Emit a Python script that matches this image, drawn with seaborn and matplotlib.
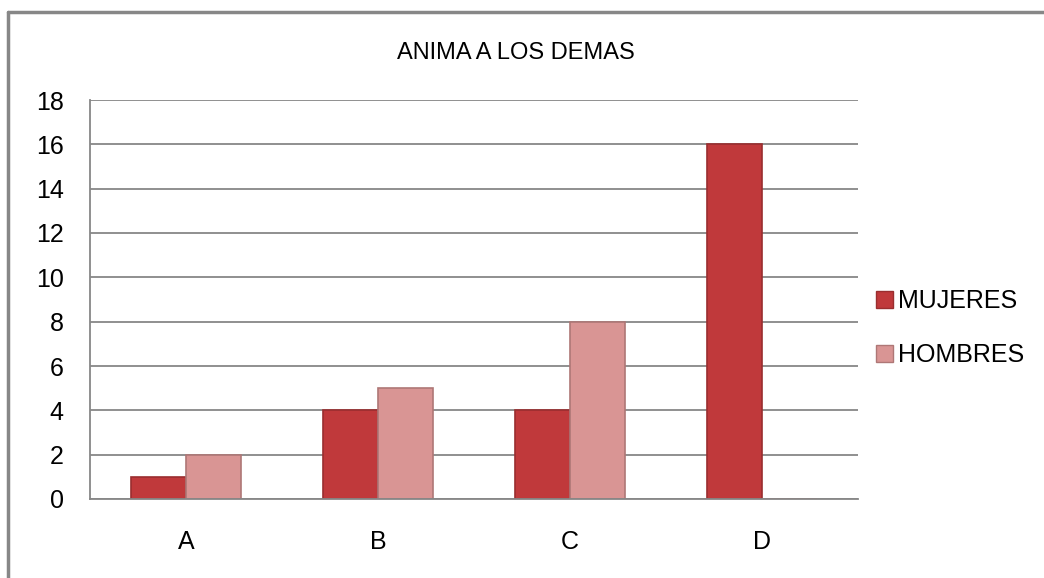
import matplotlib
matplotlib.use("Agg")
import matplotlib.pyplot as plt
import pandas as pd
import seaborn as sns

# Data
categorias = ["A", "B", "C", "D"]
mujeres = [1, 4, 4, 16]
hombres = [2, 5, 8, 0]
series = ["MUJERES", "HOMBRES"]
colores = ["#C0393B", "#D99594"]

df = pd.DataFrame({
    "cat": categorias * 2,
    "valor": mujeres + hombres,
    "serie": [series[0]] * 4 + [series[1]] * 4,
})

sns.set_style("white")
plt.rcParams["font.family"] = ["Liberation Sans", "DejaVu Sans"]
plt.rcParams["text.color"] = "black"

fig = plt.figure(figsize=(10.44, 5.78), dpi=100)
ax = fig.add_axes([90 / 1044, 1 - 499 / 578, 768 / 1044, 399 / 578])

sns.barplot(data=df, x="cat", y="valor", hue="serie", palette=colores,
            width=0.573, ax=ax, legend=False, edgecolor="none", saturation=1)

# darker edges for a bit of bevel look
for patch in ax.patches:
    fc = patch.get_facecolor()
    patch.set_edgecolor(tuple(c * 0.8 for c in fc[:3]))
    patch.set_linewidth(1.2)

ax.set_ylim(0, 18)
ax.set_yticks(range(0, 19, 2))
ax.set_xlim(-0.5, 3.5)
ax.yaxis.grid(True, color="#878787", linewidth=1.3)
ax.set_axisbelow(True)
ax.set_xlabel("")
ax.set_ylabel("")
for side in ["top", "right"]:
    ax.spines[side].set_visible(False)
for side in ["left", "bottom"]:
    ax.spines[side].set_color("#878787")
    ax.spines[side].set_linewidth(1.3)
ax.tick_params(axis="both", length=0, labelsize=18, colors="black")
ax.tick_params(axis="y", pad=19)
ax.tick_params(axis="x", pad=22)

fig.text(516 / 1044, 1 - 53 / 578, "ANIMA A LOS DEMAS", ha="center",
         va="center", fontsize=17, color="black")

# legend
handles = [plt.Rectangle((0, 0), 1, 1, facecolor=c,
                         edgecolor=tuple(x * 0.8 for x in matplotlib.colors.to_rgb(c)))
           for c in colores]
fig.legend(handles, series, loc="center left", bbox_to_anchor=(853 / 1044, 1 - 328 / 578),
           frameon=False, fontsize=18, handlelength=0.7, handleheight=0.7,
           handletextpad=0.2, labelspacing=1.2)

# outer chart frame
fig.add_artist(plt.Line2D([8 / 1044, 8 / 1044], [0, 1 - 12 / 578],
                          transform=fig.transFigure, color="#878787", linewidth=2.5))
fig.add_artist(plt.Line2D([8 / 1044, 1], [1 - 12 / 578, 1 - 12 / 578],
                          transform=fig.transFigure, color="#878787", linewidth=2.5))

fig.savefig("out.png", dpi=100)
